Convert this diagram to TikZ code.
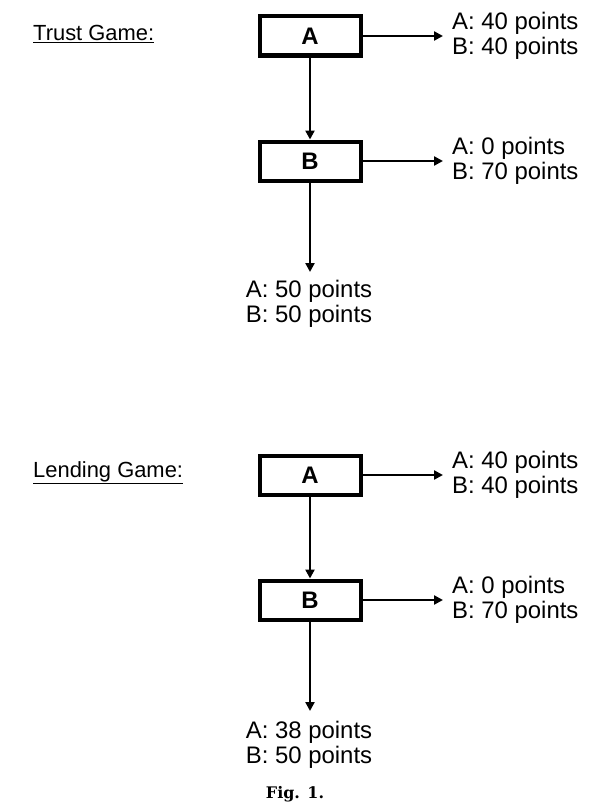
\documentclass[tikz,border=0pt]{standalone}
\usepackage{fontspec}
\setmainfont{Liberation Sans}
\newfontfamily\capfont{DejaVu Serif}
\usetikzlibrary{arrows.meta}
\tikzset{
  player/.style={draw=black, line width=4bp, minimum width=101bp, minimum height=39bp,
    inner sep=0pt, font=\fontsize{24}{24}\selectfont\bfseries},
  payoff/.style={align=left, inner sep=0pt, font=\fontsize{24}{25}\selectfont},
  title/.style={anchor=west, inner sep=0pt, font=\fontsize{22}{24}\selectfont},
  conn/.style={line width=2.4bp, -{Triangle[length=9bp,width=9bp]}},
  side/.style={conn, shorten >=9bp}
}
\begin{document}
\begin{tikzpicture}[x=1bp, y=-1bp]
\useasboundingbox (0,0) rectangle (590,809);
% Trust game
\node[title] (t1) at (33,34) {\underline{Trust Game:}};
\node[player] (ta) at (310,36) {A};
\node[player] (tb) at (310,161) {B};
\node[payoff, anchor=west] (ta1) at (452,36) {A: 40 points\\B: 40 points};
\node[payoff, anchor=west] (tb1) at (452,161) {A: 0 points\\B: 70 points};
\node[payoff] (tb2) at (309,304) {A: 50 points\\B: 50 points};
\coordinate (te) at (310,272);
\draw[side] (ta.east) -- (ta1.west);
\draw[conn] (ta.south) -- (tb.north);
\draw[side] (tb.east) -- (tb1.west);
\draw[conn] (tb.south) -- (te);
% Lending game
\node[title] (l1) at (33,473) {\underline{Lending Game:}};
\node[player] (la) at (310,475) {A};
\node[player] (lb) at (310,600) {B};
\node[payoff, anchor=west] (la1) at (452,475) {A: 40 points\\B: 40 points};
\node[payoff, anchor=west] (lb1) at (452,600) {A: 0 points\\B: 70 points};
\node[payoff] (lb2) at (309,745) {A: 38 points\\B: 50 points};
\coordinate (le) at (310,711);
\draw[side] (la.east) -- (la1.west);
\draw[conn] (la.south) -- (lb.north);
\draw[side] (lb.east) -- (lb1.west);
\draw[conn] (lb.south) -- (le);
% caption
\node[inner sep=0pt, font=\capfont\bfseries\fontsize{16}{18}\selectfont] (cap) at (295,794) {Fig. 1.};
\end{tikzpicture}
\end{document}
